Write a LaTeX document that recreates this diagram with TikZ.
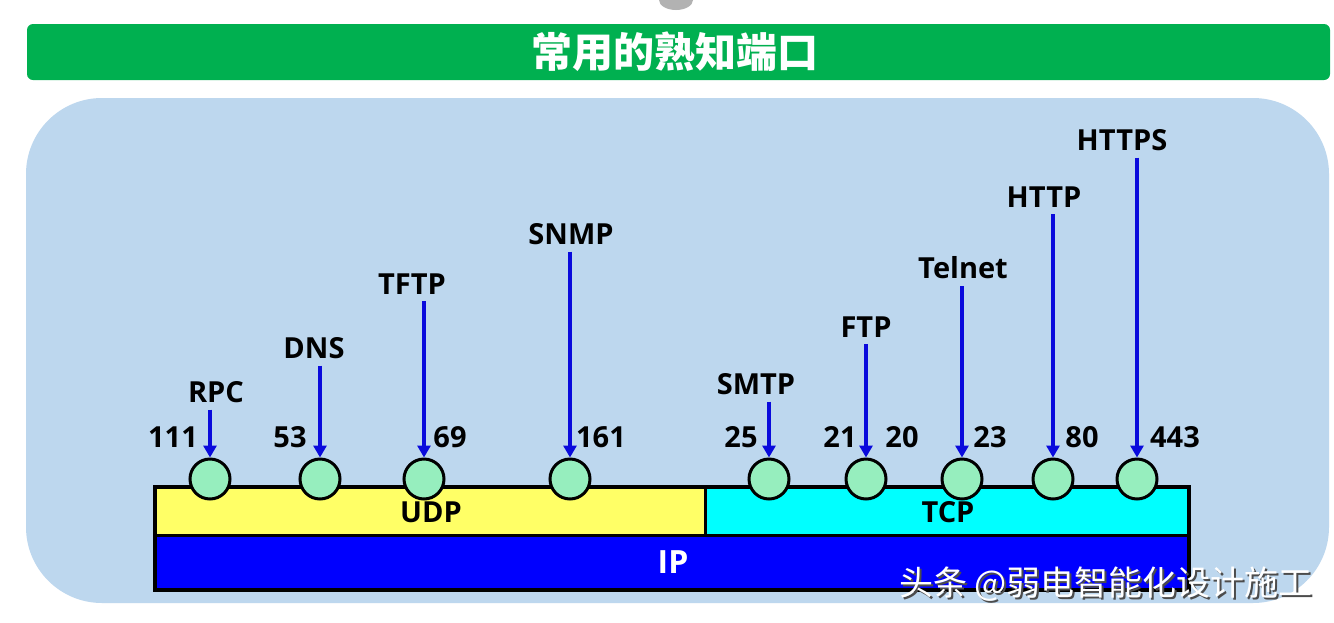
\documentclass[tikz,border=0pt]{standalone}
\usepackage{fontspec}
\setmainfont{Open Sans}
\newfontfamily\cjk{Noto Sans CJK SC}
\usetikzlibrary{arrows.meta}
\definecolor{panelblue}{RGB}{189,215,238}
\definecolor{bannergreen}{RGB}{0,176,80}
\definecolor{udpyellow}{RGB}{255,255,102}
\definecolor{tcpcyan}{RGB}{0,255,255}
\definecolor{ipblue}{RGB}{0,0,255}
\definecolor{portgreen}{RGB}{150,238,190}
\definecolor{arrowblue}{RGB}{10,10,220}
\tikzset{
  port/.style={circle,draw=black,line width=1.5pt,fill=portgreen,minimum size=20pt,inner sep=0pt},
  proto/.style={font=\fontsize{14.5}{16}\selectfont\bfseries,text=black},
  portnum/.style={font=\fontsize{14.5}{16}\selectfont\bfseries,text=black,inner sep=0pt},
  portarrow/.style={draw=arrowblue,line width=1.75pt,-{Triangle[width=6.5pt,length=6pt]}},
  layer/.style={draw=black,line width=1.5pt},
  layertext/.style={font=\fontsize{14.5}{16}\selectfont\bfseries,inner sep=0pt}
}
\begin{document}
\begin{tikzpicture}[x=0.5pt,y=-0.5pt]
  \useasboundingbox[fill=white] (0,0) rectangle (1334,622);
  % grey blob at the top:
  \fill[gray!60] (676,0) ellipse (17 and 10);
  % title banner:
  \fill[bannergreen,rounded corners=3pt] (27,24) rectangle (1330,80);
  \node[text=white,font=\cjk\fontsize{20.5}{24}\selectfont\bfseries] (title) at (675,52) {常用的熟知端口};
  % light blue panel:
  \fill[panelblue,rounded corners=38pt] (26,98) rectangle (1329,603);
  % protocol layers:
  \draw[layer,fill=udpyellow] (155,487) rectangle (705,535);
  \draw[layer,fill=tcpcyan] (705,487) rectangle (1189,535);
  \draw[layer,fill=ipblue] (155,535) rectangle (1189,590);
  \draw[line width=2pt] (155,487) rectangle (1189,590);
  \node[layertext] (udp) at (431,512) {UDP};
  \node[layertext] (tcp) at (948,512) {TCP};
  \node[layertext,text=white,font=\fontsize{16}{18}\selectfont\bfseries] (ip) at (673,562) {IP};
  % ports with their protocols:
  \foreach \nm/\cx/\lx/\ly in {RPC/210/216/392, DNS/320/314/348, TFTP/424/412/284,
      SNMP/570/571/234, SMTP/769/756/384, FTP/866/866/327, Telnet/962/963/268,
      HTTP/1053/1044/197, HTTPS/1137/1122/140}
  {
    \node[port] (c\nm) at (\cx,479) {};
    \node[proto] (l\nm) at (\lx,\ly) {\nm};
    \draw[portarrow] (l\nm.south -| c\nm.north) -- (c\nm.north);
  }
  % port numbers:
  \foreach \num/\nx in {111/173, 53/290, 69/450, 161/601, 25/741,
      21/840, 20/902, 23/990, 80/1082, 443/1175}
    \node[portnum] (n\num) at (\nx,437) {\num};
  % watermark:
  \node[text=black!70,font=\cjk\fontsize{17}{20}\selectfont] (wmshadow) at (1108,586) {头条 @弱电智能化设计施工};
  \node[text=white,font=\cjk\fontsize{17}{20}\selectfont] (wm) at (1106,584) {头条 @弱电智能化设计施工};
\end{tikzpicture}
\end{document}
